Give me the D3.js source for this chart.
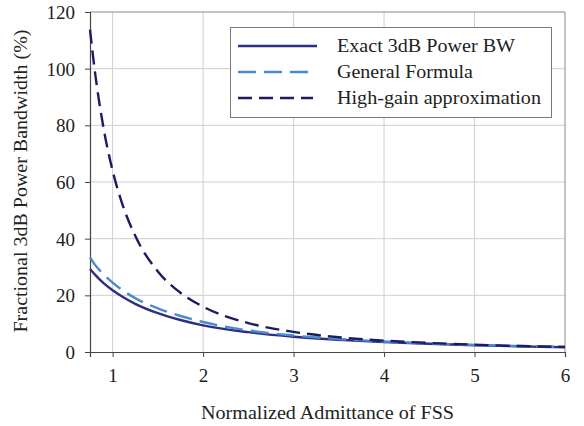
<!DOCTYPE html>
<html>
<head>
<meta charset="utf-8">
<script src="https://cdn.jsdelivr.net/npm/d3@7"></script>
<style>
  body { margin: 0; background: #fff; }
  text { font-family: "Liberation Serif", "Times New Roman", serif; fill: #222; }
</style>
</head>
<body>
<svg id="chart" width="584" height="426"></svg>
<script>
// values
const admittance = [0.75, 0.8, 0.9, 1.0, 1.1, 1.25, 1.5, 1.75, 2.0, 2.5, 3.0, 3.5, 4.0, 4.5, 5.0, 5.5, 6.0];
const exactBW    = [29.3, 27.5, 24.3, 21.8, 19.7, 17.0, 13.7, 11.3, 9.4, 7.0, 5.4, 4.3, 3.5, 2.9, 2.4, 2.0, 1.7];
const generalBW  = [33.4, 31.0, 27.4, 24.5, 22.0, 19.0, 15.4, 12.7, 10.6, 7.6, 5.8, 4.6, 3.7, 3.0, 2.5, 2.1, 1.8];
const highGainBW = [113.8, 100, 79, 64, 52.9, 41, 28.4, 20.9, 16, 10.2, 7.1, 5.2, 4.0, 3.2, 2.6, 2.1, 1.8];

const xTicks = [1, 2, 3, 4, 5, 6];
const yTicks = [0, 20, 40, 60, 80, 100, 120];

const seriesNames = ["Exact 3dB Power BW", "General Formula", "High-gain approximation"];
const seriesColors = ["#2E2E82", "#4A8AD0", "#1C1C62"];
const seriesDash = [null, "18,8", "14,7"];

const svg = d3.select("#chart");
const pLeft = 90, pRight = 565, pTop = 12, pBottom = 352;
const serif = "Liberation Serif, Times New Roman, serif";

const x = d3.scaleLinear().domain([0.75, 6]).range([pLeft, pRight]);
const y = d3.scaleLinear().domain([0, 120]).range([pBottom, pTop]);

// grid
svg.append("g").selectAll("line")
  .data(yTicks.filter(d => d > 0 && d < 120))
  .join("line")
  .attr("x1", pLeft).attr("x2", pRight)
  .attr("y1", d => y(d)).attr("y2", d => y(d))
  .attr("stroke", "#cfcfcf").attr("stroke-width", 1);

svg.append("g").selectAll("line")
  .data(xTicks.filter(d => d < 6))
  .join("line")
  .attr("x1", d => x(d)).attr("x2", d => x(d))
  .attr("y1", pTop).attr("y2", pBottom)
  .attr("stroke", "#cfcfcf").attr("stroke-width", 1);

// plot border top/right
svg.append("path")
  .attr("d", `M${pLeft},${pTop}H${pRight}V${pBottom}`)
  .attr("fill", "none").attr("stroke", "#8a8a8a").attr("stroke-width", 1);

// axes
const yAxis = d3.axisLeft(y).tickValues(yTicks).tickSize(5).tickPadding(10);
const xAxis = d3.axisBottom(x).tickValues(xTicks).tickFormat(d3.format("d")).tickSize(5).tickPadding(12);

const ay = svg.append("g").attr("transform", `translate(${pLeft},0)`).call(yAxis);
const ax = svg.append("g").attr("transform", `translate(0,${pBottom})`).call(xAxis);
[ay, ax].forEach(g => {
  g.attr("font-family", serif).attr("font-size", 19);
  g.select(".domain").attr("stroke", "#444").attr("stroke-width", 1.2);
  g.selectAll(".tick line").attr("stroke", "#444");
  g.selectAll(".tick text").attr("fill", "#222");
});
ay.selectAll(".tick text").attr("dy", "0.35em");

// lines
const seriesData = [exactBW, generalBW, highGainBW];
const line = d3.line()
  .x((d, i) => x(admittance[i]))
  .y(d => y(d))
  .curve(d3.curveMonotoneX);

svg.append("g").selectAll("path")
  .data(seriesData)
  .join("path")
  .attr("d", d => line(d))
  .attr("fill", "none")
  .attr("stroke", (d, i) => seriesColors[i])
  .attr("stroke-width", 2.4)
  .attr("stroke-dasharray", (d, i) => seriesDash[i]);

// legend
const lg = svg.append("g");
lg.append("rect")
  .attr("x", 230.5).attr("y", 27.5).attr("width", 321).attr("height", 90)
  .attr("fill", "#fff").attr("stroke", "#7a7a7a").attr("stroke-width", 1);

const rowY = [46, 72, 98];
const textLens = [178, 136, 204];
const sampleEnd = [317, 309, 313];
seriesNames.forEach((name, i) => {
  lg.append("line")
    .attr("x1", 238).attr("x2", sampleEnd[i])
    .attr("y1", rowY[i]).attr("y2", rowY[i])
    .attr("stroke", seriesColors[i]).attr("stroke-width", 2.4)
    .attr("stroke-dasharray", seriesDash[i]);
  lg.append("text")
    .attr("x", 337).attr("y", rowY[i] + 6)
    .attr("textLength", textLens[i]).attr("lengthAdjust", "spacingAndGlyphs")
    .style("font-size", "18px")
    .text(name);
});

// axis titles
svg.append("text")
  .attr("x", (pLeft + pRight) / 2).attr("y", 419)
  .attr("text-anchor", "middle")
  .attr("textLength", 253).attr("lengthAdjust", "spacingAndGlyphs")
  .style("font-size", "18px")
  .text("Normalized Admittance of FSS");

svg.append("text")
  .attr("transform", "translate(27,181) rotate(-90)")
  .attr("text-anchor", "middle")
  .attr("textLength", 303).attr("lengthAdjust", "spacingAndGlyphs")
  .style("font-size", "18px")
  .text("Fractional 3dB Power Bandwidth (%)");
</script>
</body>
</html>
